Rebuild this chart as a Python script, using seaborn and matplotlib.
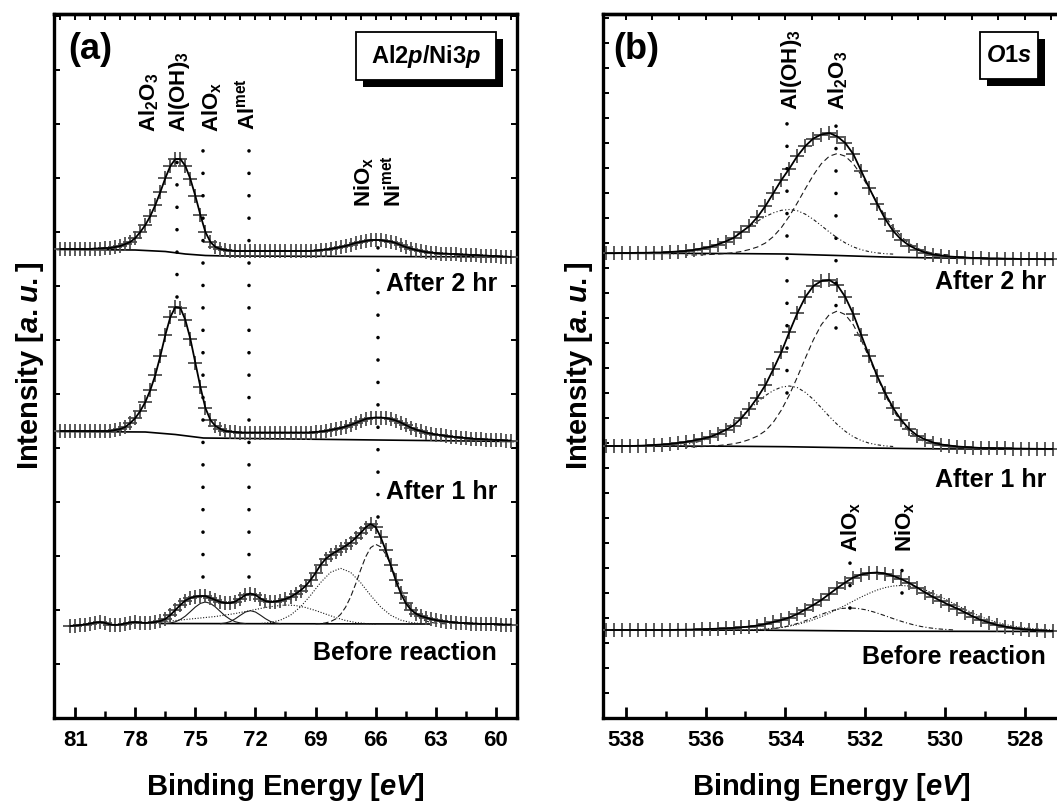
import numpy as np
import matplotlib
matplotlib.use("Agg")
import matplotlib.pyplot as plt
from matplotlib.ticker import MultipleLocator
from matplotlib.patches import Rectangle
import seaborn as sns

sns.set_theme(style="ticks")
plt.rcParams.update({
    "font.family": ["Liberation Sans", "DejaVu Sans"],
    "font.weight": "bold",
    "axes.labelweight": "bold",
    "mathtext.fontset": "custom",
    "mathtext.rm": "Liberation Sans:bold",
    "mathtext.it": "Liberation Sans:italic:bold",
    "mathtext.bf": "Liberation Sans:bold",
    "axes.edgecolor": "black",
    "axes.linewidth": 2.4,
    "xtick.color": "black",
    "ytick.color": "black",
    "text.color": "black",
    "axes.labelcolor": "black",
})

# ---------------- (a) Al2p / Ni3p ----------------
E_AL = np.arange(81.75, 59.1, -0.25)       # after 2 hr / after 1 hr grid
E_AL0 = np.arange(81.25, 59.1, -0.25)      # before reaction grid
AL_TICKS = [81, 78, 75, 72, 69, 66, 63, 60]

AL_2HR = [469, 469, 469, 469, 469, 469, 469, 469.5, 469.5, 470,
          470, 471, 472, 474, 476, 480, 486, 493, 502, 513,
          526, 540, 552, 559, 559, 552, 539, 522, 503, 486,
          476, 471, 469, 468, 467.5, 467, 467, 467, 467, 467,
          467, 467, 467, 467, 467, 467, 467, 467, 467, 467,
          467, 467.5, 468, 468.5, 469, 470, 471, 472, 473.5, 475,
          476, 477, 478, 478, 478, 477, 476.5, 475, 473, 471,
          469.5, 468, 467, 466, 465.5, 465, 464.5, 464.5, 464, 464,
          463.5, 463.5, 463, 463, 462.5, 462.5, 462, 462, 461.5, 461.5,
          461]
AL_1HR = [287, 287, 287, 287, 287, 287, 287, 287, 287, 287,
          287, 288, 289, 291, 295, 300, 307, 316, 328, 343,
          362, 383, 401, 411, 410, 398, 379, 355, 331, 310,
          298, 292, 289, 287, 286.5, 286, 285.5, 285.5, 285.5, 285.5,
          285.5, 285.5, 285.5, 285.5, 285.5, 285.5, 285.5, 285.5, 285.5, 285.5,
          285.5, 286, 286.5, 287, 288, 289, 290, 291.5, 293, 295,
          297, 299, 300, 300.5, 300.5, 300, 299, 297.5, 295.5, 293,
          290.5, 288.5, 287, 285.5, 284.5, 283.5, 283, 282, 281.5, 281,
          280.5, 280, 279.5, 279, 279, 278.5, 278.5, 278, 278, 277.5,
          277.5]
AL_0HR = [92, 92.5, 93, 93.5, 94.5, 95.5, 96, 95, 93.5, 93,
          93.5, 94.5, 95.5, 96, 95.5, 95, 95.5, 96, 97, 99,
          103, 108, 113, 117.5, 120, 121.5, 122, 122, 120, 118,
          116, 115, 115, 116.5, 119.5, 123, 124.5, 123, 119.5, 117,
          116, 116.5, 117.5, 119, 121, 124, 127.5, 132, 138, 145,
          153, 159, 163, 166, 169, 172, 175.5, 180, 185, 190.5,
          194, 191, 181, 168, 153, 138, 125, 115, 108.5, 104.5,
          102, 100.5, 99, 98, 97, 96.5, 96, 95.5, 95, 95,
          94.5, 94.5, 94, 94, 94, 94, 93.5, 93.5, 93.5]

BG_AL_2HR_E = [81.9, 78.0, 76.5, 75.5, 74.5, 73.5, 66.0, 59.1]
BG_AL_2HR = [468.5, 468, 466.5, 464, 462.5, 462, 461.5, 461]
BG_AL_1HR_E = [81.9, 77.5, 76.0, 74.6, 72.3, 65.9, 59.1]
BG_AL_1HR = [286.5, 286, 283.5, 280, 279.5, 278, 276.5]
BG_AL_0HR_E = [76.8, 63.3]
BG_AL_0HR = [94.5, 94]

# fitted components, before reaction
CA_E = np.arange(76.5, 72.4, -0.25)
CA = [94.4, 95, 96.2, 98.5, 101.9, 106.4, 111, 114.6, 116, 114.6,
      111, 106.4, 101.9, 98.5, 96.2, 95, 94.4]
CB_E = np.arange(73.75, 70.7, -0.25)
CB = [94.3, 95, 96.5, 99.3, 102.8, 106, 107.3, 106, 102.8, 99.3, 96.5, 95, 94.3]
CC_E = np.arange(77.5, 65.9, -0.5)
CC = [94.5, 95.5, 96.5, 97.5, 98.5, 99.5, 100.5, 101.5, 103, 104.5, 106.5, 108.5,
      110.5, 112, 113, 112.5, 110.5, 107.5, 104, 100.5, 97.5, 95.5, 94.5, 94]
CD_E = np.arange(71.75, 63.7, -0.5)
CD = [94.5, 95.5, 97.9, 102.8, 111.1, 122.6, 135.4, 145.7, 149.7, 145.7,
      135.4, 122.6, 111.1, 102.8, 97.9, 95.5, 94.5]
CE_E = np.arange(69.0, 62.4, -0.25)
CE = [94.2, 94.4, 95.1, 96.4, 99, 103.6, 110.8, 121, 133.9, 148, 161, 170.3, 173.7,
      171.2, 164, 153.5, 141.4, 129.3, 118.7, 110.2, 103.9, 99.7, 97.1, 95.6, 94.9, 94.4, 94.2]

# ---------------- (b) O1s ----------------
E_O = np.arange(538.5, 527.2, -0.2)
O_TICKS = [538, 536, 534, 532, 530, 528]
O_2HR = [464.8, 464.8, 465, 465, 465.2, 465.2, 465.5, 465.5, 466, 466.5,
         467, 468, 469.5, 471, 473.5, 476.5, 480, 486, 492, 501,
         512, 525, 538, 549.5, 562, 572, 579.5, 583.5, 585, 581.5,
         575, 564, 547, 530, 514, 499, 487, 478.5, 472.5, 468.5,
         465.5, 463.5, 462.5, 461.5, 461, 460.5, 460, 460, 459.5, 459.5,
         459.2, 459.2, 459, 459, 459, 458.8, 458.8]
O_1HR = [272, 272, 272, 272, 272.2, 272.5, 273, 273.5, 274, 275,
         276, 277.5, 279, 281, 284, 288, 292.5, 300, 309.5, 320.5,
         333, 349, 366, 386, 405, 421, 432, 437, 438, 433,
         421, 404, 383, 362, 342, 325, 310, 298, 289, 282.5,
         278.5, 275.5, 273.5, 272.5, 271.5, 271, 270.5, 270, 270, 269.8,
         269.6, 269.5, 269.4, 269.3, 269.2, 269.1, 269.1]
O_0HR = [88, 88, 88, 88, 88, 88, 88, 88, 88, 88.2,
         88.3, 88.5, 88.7, 89, 89.3, 89.6, 90, 90.7, 91.5, 92.5,
         94, 96, 98, 100.5, 104, 108.5, 113, 118, 124, 130,
         135.5, 140.5, 143.5, 145, 145.5, 144.5, 142, 139, 135, 130.5,
         125.5, 121, 117, 113, 109.5, 105.5, 101.5, 98, 95.5, 93,
         91.5, 90, 89, 88.3, 87.7, 87.3, 87]

BG_O_2HR_E = [538.5, 535.5, 534.0, 532.7, 531.5, 530.5, 527.3]
BG_O_2HR = [464.8, 464.5, 464, 462.5, 461, 460.2, 458.8]
BG_O_1HR_E = [538.5, 535.5, 534.0, 532.5, 531.0, 530.0, 527.3]
BG_O_1HR = [272, 271.8, 271.3, 270.3, 269.5, 269.1, 268.8]
BG_O_0HR_E = [538.5, 534.5, 531.5, 527.3]
BG_O_0HR = [88, 87.8, 86.8, 86.5]

OH_E = np.arange(536.9, 531.2, -0.2)
OH_2HR = [464.1, 464.6, 465.4, 466.5, 468.1, 470.3, 473.3, 476.9, 481.3, 486.3,
          491.6, 496.8, 501.5, 505.2, 507.7, 508.5, 507.3, 503.8, 498.6, 492.4,
          486, 480.1, 475.1, 471.1, 468.3, 466.3, 465.1, 464.3, 463.9]
OH_1HR = [271.8, 272.5, 273.6, 275.1, 277.2, 280.2, 284.3, 289.2, 295.1, 301.9,
          309.1, 316.1, 322.5, 327.5, 330.9, 332, 330.4, 325.6, 318.6, 310.2,
          301.5, 293.5, 286.7, 281.3, 277.5, 274.8, 273.2, 272.1, 271.5]
OX_E = np.arange(536.5, 529.8, -0.2)
OX_2HR = [462.9, 463, 463.2, 463.5, 463.9, 464.5, 465.3, 466.5, 468.5, 471,
          475, 481.5, 490.5, 501.9, 515.2, 529.3, 542.9, 554.3, 561.8, 564.5,
          561.8, 554.3, 542.9, 529.3, 515.2, 501.9, 490.4, 481.3, 474.5, 469.8,
          466.7, 464.8, 463.7, 463.1]
OX_1HR = [271, 271.2, 271.4, 271.8, 272.4, 273.2, 274.2, 275.9, 278.5, 281.9,
          287.2, 295.9, 308, 323.2, 341, 359.9, 378.1, 393.3, 403.4, 407,
          403.4, 393.3, 378.1, 359.9, 341, 323.2, 307.8, 295.7, 286.6, 280.3,
          276.1, 273.6, 272.1, 271.3]
NI_E = np.arange(535.5, 527.2, -0.2)
NI_0HR = [87.7, 87.8, 87.9, 88.1, 88.5, 89, 89.7, 90.6, 91.9, 93.6, 95.7,
          98.3, 101.3, 104.8, 108.6, 112.7, 116.9, 121, 124.7, 128, 130.4, 132,
          132.5,
          132, 130.4, 128, 124.7, 121, 116.9, 112.7, 108.6, 104.8, 101.3,
          98.3, 95.7, 93.6, 91.9, 90.6, 89.7, 89, 88.5, 88.1]
ALX_E = np.arange(534.8, 529.7, -0.2)
ALX_0HR = [87.9, 88.3, 88.9, 89.9, 91.3, 93.3, 95.8, 98.8, 102, 105.1, 107.7, 109.5,
           110.1,
           109.6, 108.3, 106.2, 103.6, 100.8, 98, 95.5, 93.3, 91.5, 90.2, 89.2, 88.6, 88.1]

# reference lines (energy, from, to) and their labels
AL_REFS = [(75.9, 421, 570), (74.6, 141, 570), (72.3, 141, 570), (65.9, 201, 491)]
AL_LABELS = [("Al$_2$O$_3$", 77.32, 586), ("Al(OH)$_3$", 75.77, 586),
             ("AlO$_\\mathrm{x}$", 74.15, 586), ("Al$^\\mathrm{met}$", 72.4, 588),
             ("NiO$_\\mathrm{x}$", 66.58, 511), ("Ni$^\\mathrm{met}$", 65.08, 511)]
O_REFS = [(533.95, 325, 601), (532.73, 390, 601), (532.38, 110, 158), (531.07, 125, 158)]
O_LABELS = [("Al(OH)$_3$", 533.84, 608), ("Al$_2$O$_3$", 532.68, 608),
            ("AlO$_\\mathrm{x}$", 532.34, 166), ("NiO$_\\mathrm{x}$", 531.0, 166)]
STAGES = ["After 2 hr", "After 1 hr", "Before reaction"]


def spectrum(ax, e, y):
    sns.scatterplot(x=e, y=y, ax=ax, marker="+", s=90, color="0.3",
                    linewidth=1.3, zorder=3)
    sns.lineplot(x=e, y=y, ax=ax, color="black", lw=1.3, zorder=4)


def line(ax, e, y, ls="-", lw=0.8, color="0.1"):
    sns.lineplot(x=e, y=y, ax=ax, color=color, lw=lw, linestyle=ls, zorder=2)


def style_axes(ax, ticks, minor, top_step, ystep, right_ticks=True):
    ax.set_ylim(0, 704)
    ax.set_xticks(ticks)
    ax.set_xticklabels([str(t) for t in ticks], fontsize=16, fontweight="bold")
    ax.xaxis.set_minor_locator(MultipleLocator(minor))
    ax.yaxis.set_major_locator(MultipleLocator(ystep))
    ax.tick_params(axis="x", which="major", direction="in", length=8, width=2,
                   pad=9, top=False)
    ax.tick_params(axis="x", which="minor", direction="in", length=5, width=1.8, top=False)
    ax.tick_params(axis="y", direction="in", length=4, width=1.4,
                   left=True, right=right_ticks, labelleft=False)
    for sp in ax.spines.values():
        sp.set_linewidth(2.4)
    sec = ax.secondary_xaxis("top")
    sec.xaxis.set_major_locator(MultipleLocator(top_step))
    sec.tick_params(direction="in", length=4, width=1.4, labeltop=False)
    sec.spines["top"].set_linewidth(2.4)
    ax.set_xlabel("Binding Energy [$\\mathit{eV}$]", fontsize=21, labelpad=14,
                  fontweight="bold")
    ax.set_ylabel("Intensity [$\\mathit{a.u.}$]", fontsize=21, labelpad=6,
                  fontweight="bold")


W, H = 1057, 802
fig = plt.figure(figsize=(W / 100, H / 100), dpi=100)
ax1 = fig.add_axes([54 / W, 1 - 718 / H, (517 - 54) / W, 704 / H])
ax2 = fig.add_axes([603 / W, 1 - 718 / H, (1060 - 603) / W, 704 / H])

# panel (a)
spectrum(ax1, E_AL, AL_2HR)
spectrum(ax1, E_AL, AL_1HR)
spectrum(ax1, E_AL0, AL_0HR)
line(ax1, BG_AL_2HR_E, BG_AL_2HR, lw=1.2, color="black")
line(ax1, BG_AL_1HR_E, BG_AL_1HR, lw=1.2, color="black")
line(ax1, BG_AL_0HR_E, BG_AL_0HR, lw=1.2, color="black")
line(ax1, CA_E, CA, "-")
line(ax1, CB_E, CB, "-")
line(ax1, CC_E, CC, (0, (1, 1.5)))
line(ax1, CD_E, CD, (0, (1, 1.5)))
line(ax1, CE_E, CE, (0, (5, 2.5)))
for e, lo, hi in AL_REFS:
    ax1.vlines(e, lo, hi, colors="black", linewidth=2.6,
               linestyles=(0, (0.01, 6.2)), capstyle="round", zorder=5)
for txt, e, h in AL_LABELS:
    ax1.text(e, h, txt, rotation=90, ha="center", va="bottom", fontsize=16)
for txt, h in zip(STAGES, [434, 226, 65]):
    ax1.text(59.94, h, txt, ha="right", va="center", fontsize=18)
ax1.set_xlim(82.06, 58.94)
style_axes(ax1, AL_TICKS, 1.5, 0.75, 54)
ax1.text(0.03, 0.949, "(a)", transform=ax1.transAxes, fontsize=26, va="center", ha="left")

# panel (b)
spectrum(ax2, E_O, O_2HR)
spectrum(ax2, E_O, O_1HR)
spectrum(ax2, E_O, O_0HR)
line(ax2, BG_O_2HR_E, BG_O_2HR, lw=1.2, color="black")
line(ax2, BG_O_1HR_E, BG_O_1HR, lw=1.2, color="black")
line(ax2, BG_O_0HR_E, BG_O_0HR, lw=1.2, color="black")
line(ax2, OX_E, OX_2HR, (0, (5, 3)))
line(ax2, OX_E, OX_1HR, (0, (5, 3)))
line(ax2, OH_E, OH_2HR, (0, (3, 2, 1, 2, 1, 2)))
line(ax2, OH_E, OH_1HR, (0, (3, 2, 1, 2, 1, 2)))
line(ax2, NI_E, NI_0HR, (0, (1, 1.5)))
line(ax2, ALX_E, ALX_0HR, (0, (4, 2, 1, 2)))
for e, lo, hi in O_REFS:
    ax2.vlines(e, lo, hi, colors="black", linewidth=2.6,
               linestyles=(0, (0.01, 6.2)), capstyle="round", zorder=5)
for txt, e, h in O_LABELS:
    ax2.text(e, h, txt, rotation=90, ha="center", va="bottom", fontsize=16)
for txt, h in zip(STAGES, [436, 238, 61]):
    ax2.text(527.47, h, txt, ha="right", va="center", fontsize=18)
ax2.set_xlim(538.57, 527.12)
style_axes(ax2, O_TICKS, 1, 2 / 3, 25, right_ticks=False)
ax2.text(0.0225, 0.949, "(b)", transform=ax2.transAxes, fontsize=26, va="center", ha="left")

# boxed core-level tags with drop shadow
for (x0, y0, bw, bh, txt) in [(356, 32, 140, 48, "Al$\\mathit{2p}$/Ni$\\mathit{3p}$"),
                              (980, 32, 58, 47, "$\\mathit{O1s}$")]:
    fig.add_artist(Rectangle(((x0 + 7) / W, 1 - (y0 + bh + 7) / H), bw / W, bh / H,
                             transform=fig.transFigure, fc="black", ec="none", zorder=5))
    fig.add_artist(Rectangle((x0 / W, 1 - (y0 + bh) / H), bw / W, bh / H,
                             transform=fig.transFigure, fc="white", ec="black", lw=1.3, zorder=6))
    fig.text((x0 + bw / 2) / W, 1 - (y0 + bh / 2) / H, txt, ha="center", va="center",
             fontsize=17, zorder=7)

fig.savefig("out.png", dpi=100)
